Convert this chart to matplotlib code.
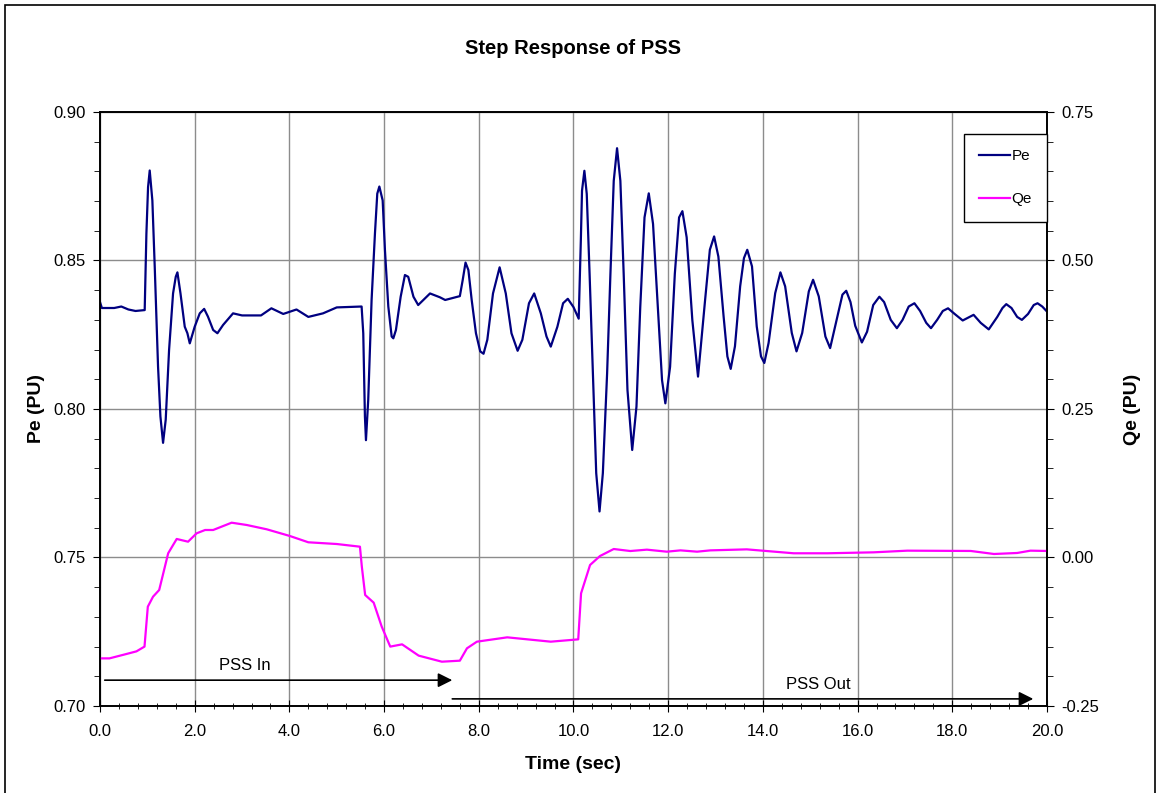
import numpy as np
import matplotlib as mpl
mpl.use('Agg')
import matplotlib.pyplot as plt
from matplotlib.patches import Rectangle
from matplotlib.ticker import MultipleLocator, FormatStrFormatter

plt.rcParams['font.family'] = ['Liberation Sans', 'DejaVu Sans']

# Pe (left axis)
pe_t = [0.00, 0.04, 0.30, 0.45, 0.60, 0.75, 0.944, 0.98, 1.015, 1.05, 1.106, 1.156, 1.226,
        1.276, 1.332, 1.388, 1.459, 1.543, 1.60, 1.635, 1.70, 1.79, 1.846, 1.896, 2.00,
        2.107, 2.20, 2.28, 2.39, 2.48, 2.60, 2.81, 3.00, 3.40, 3.62, 3.87, 4.15, 4.40,
        4.71, 5.00, 5.525, 5.56, 5.595, 5.617, 5.665, 5.736, 5.807, 5.856, 5.90, 5.97,
        6.018, 6.089, 6.16, 6.195, 6.25, 6.35, 6.44, 6.51, 6.62, 6.72, 6.83, 6.97, 7.18,
        7.29, 7.60, 7.66, 7.72, 7.78, 7.85, 7.94, 8.03, 8.10, 8.18, 8.30, 8.44, 8.57, 8.69,
        8.82, 8.92, 9.06, 9.17, 9.31, 9.43, 9.52, 9.66, 9.78, 9.88, 10.00, 10.11, 10.155,
        10.18, 10.23, 10.28, 10.34, 10.41, 10.48, 10.55, 10.62, 10.71, 10.78, 10.85, 10.92,
        10.99, 11.06, 11.14, 11.24, 11.33, 11.41, 11.50, 11.59, 11.68, 11.78, 11.87, 11.94,
        12.04, 12.14, 12.23, 12.30, 12.39, 12.51, 12.63, 12.78, 12.88, 12.97, 13.06, 13.17,
        13.25, 13.32, 13.41, 13.52, 13.60, 13.67, 13.77, 13.87, 13.96, 14.03, 14.12, 14.26,
        14.37, 14.47, 14.61, 14.71, 14.83, 14.97, 15.06, 15.18, 15.32, 15.42, 15.60, 15.68,
        15.76, 15.85, 15.95, 16.09, 16.20, 16.33, 16.46, 16.56, 16.70, 16.83, 16.95, 17.08,
        17.20, 17.32, 17.45, 17.55, 17.68, 17.80, 17.91, 18.05, 18.22, 18.45, 18.60, 18.77,
        18.95, 19.06, 19.14, 19.25, 19.37, 19.47, 19.60, 19.72, 19.80, 19.90, 20.00]
pe_v = [0.836, 0.834, 0.834, 0.8345, 0.8335, 0.833, 0.8333, 0.859, 0.8747, 0.8803, 0.8702,
        0.8479, 0.8143, 0.7975, 0.7886, 0.7964, 0.8199, 0.8389, 0.8445, 0.846, 0.8389,
        0.8277, 0.8255, 0.8221, 0.8277, 0.8322, 0.8337, 0.8311, 0.8266, 0.8255, 0.8283,
        0.8322, 0.8315, 0.8315, 0.8339, 0.832, 0.8335, 0.831, 0.8322, 0.8342, 0.8345,
        0.8255, 0.7975, 0.7895, 0.8031, 0.8367, 0.8591, 0.8725, 0.8749, 0.8702, 0.8535,
        0.8345, 0.8244, 0.8238, 0.8266, 0.8378, 0.8451, 0.8445, 0.8378, 0.835, 0.8367,
        0.8389, 0.8376, 0.8367, 0.838, 0.8434, 0.8493, 0.8468, 0.8367, 0.8255, 0.8194,
        0.8186, 0.8233, 0.8389, 0.8477, 0.8389, 0.8255, 0.8196, 0.8233, 0.8356, 0.8389,
        0.8322, 0.8244, 0.821, 0.8277, 0.8356, 0.8371, 0.8343, 0.8304, 0.8567, 0.8735,
        0.8802, 0.8724, 0.8455, 0.812, 0.7784, 0.7655, 0.7784, 0.812, 0.8455, 0.8768,
        0.8878, 0.8768, 0.8455, 0.8064, 0.7862, 0.8008, 0.8343, 0.8645, 0.8726, 0.8623,
        0.8343, 0.8097, 0.8019, 0.8142, 0.8455, 0.8645, 0.8666, 0.8578, 0.8299, 0.8109,
        0.8368, 0.8536, 0.8581, 0.8513, 0.8312, 0.8177, 0.8135, 0.8211, 0.8413, 0.8508,
        0.8536, 0.848, 0.8278, 0.8177, 0.8155, 0.8222, 0.839, 0.846, 0.8413, 0.8256,
        0.8194, 0.8256, 0.8396, 0.8435, 0.8379, 0.8244, 0.8205, 0.833, 0.8385, 0.8398,
        0.836, 0.828, 0.8224, 0.826, 0.835, 0.8378, 0.836, 0.830, 0.8272, 0.830, 0.8345,
        0.8356, 0.833, 0.829, 0.8272, 0.830, 0.833, 0.8339, 0.832, 0.8298, 0.8317, 0.829,
        0.8268, 0.831, 0.834, 0.8353, 0.834, 0.831, 0.830, 0.832, 0.835, 0.8356, 0.8345,
        0.8328]

# Qe (right axis)
qe_t = [0.00, 0.20, 0.56, 0.77, 0.94, 1.01, 1.12, 1.25, 1.44, 1.62, 1.86, 2.04, 2.22, 2.39,
        2.78, 3.10, 3.52, 4.01, 4.40, 5.00, 5.49, 5.53, 5.60, 5.78, 5.95, 6.13, 6.38, 6.73,
        7.22, 7.60, 7.75, 7.96, 8.60, 9.52, 10.10, 10.16, 10.35, 10.56, 10.85, 11.20, 11.55,
        11.97, 12.26, 12.61, 12.89, 13.66, 14.65, 15.36, 16.34, 17.05, 18.39, 18.88, 19.37,
        19.65, 20.00]
qe_v = [-0.1698, -0.1698, -0.1624, -0.158, -0.150, -0.0828, -0.066, -0.0547, 0.0071, 0.0312,
        0.0266, 0.0407, 0.0463, 0.0463, 0.0586, 0.0547, 0.0475, 0.0362, 0.0256, 0.0227,
        0.0182, -0.0155, -0.0631, -0.076, -0.1164, -0.150, -0.1462, -0.1652, -0.1754,
        -0.1737, -0.1529, -0.1417, -0.1344, -0.1417, -0.1378, -0.0603, -0.0126, 0.0025,
        0.0143, 0.0109, 0.0132, 0.0098, 0.0120, 0.0098, 0.0120, 0.0137, 0.0071, 0.0071,
        0.0087, 0.0115, 0.0110, 0.0059, 0.0076, 0.0115, 0.0110]

fig = plt.figure(figsize=(11.56, 7.93), dpi=100)
ax = fig.add_axes([0.0865, 0.1097, 0.8192, 0.7491])
ax2 = ax.twinx()

l1, = ax.plot(pe_t, pe_v, color='#000080', lw=1.6, label='Pe')
l2, = ax2.plot(qe_t, qe_v, color='#FF00FF', lw=1.6, label='Qe')

ax.set_xlim(0, 20)
ax.set_ylim(0.70, 0.90)
ax2.set_ylim(-0.25, 0.75)
ax.xaxis.set_major_locator(MultipleLocator(2))
ax.xaxis.set_minor_locator(MultipleLocator(0.4))
ax.yaxis.set_major_locator(MultipleLocator(0.05))
ax.yaxis.set_minor_locator(MultipleLocator(0.01))
ax2.yaxis.set_major_locator(MultipleLocator(0.25))
ax2.yaxis.set_minor_locator(MultipleLocator(0.05))
ax.xaxis.set_major_formatter(FormatStrFormatter('%.1f'))
ax.yaxis.set_major_formatter(FormatStrFormatter('%.2f'))
ax2.yaxis.set_major_formatter(FormatStrFormatter('%.2f'))

ax.grid(True, which='major', color='#8c8c8c', lw=1)
ax.set_axisbelow(True)
ax.tick_params(axis='x', which='major', direction='inout', length=8, labelsize=12, pad=9)
ax.tick_params(axis='x', which='minor', direction='inout', length=5)
ax.tick_params(axis='y', which='major', direction='out', length=5, labelsize=12, pad=5)
ax.tick_params(axis='y', which='minor', direction='out', length=4)
ax2.tick_params(axis='y', which='major', direction='out', length=5, labelsize=12, pad=5)
ax2.tick_params(axis='y', which='minor', direction='out', length=4)
for a in (ax, ax2):
    for s in a.spines.values():
        s.set_linewidth(1.2)

ax.set_title('Step Response of PSS', fontsize=14.5, fontweight='bold', pad=42)
ax.set_xlabel('Time (sec)', fontsize=14, fontweight='bold', labelpad=12)
ax.set_ylabel('Pe (PU)', fontsize=14, fontweight='bold', labelpad=6)
ax2.set_ylabel('Qe (PU)', fontsize=14, fontweight='bold', labelpad=18)

# PSS In / PSS Out arrows
arrow = dict(arrowstyle='-|>,head_length=0.86,head_width=0.43', color='black',
             lw=1.2, shrinkA=0, shrinkB=0, mutation_scale=10)
ax.annotate('', xy=(7.44, 0.7087), xytext=(0.10, 0.7087), arrowprops=arrow)
ax.text(3.06, 0.7138, 'PSS In', ha='center', va='center', fontsize=12)
ax.annotate('', xy=(19.71, 0.7024), xytext=(7.44, 0.7024), arrowprops=arrow)
ax.text(15.17, 0.7074, 'PSS Out', ha='center', va='center', fontsize=12)

leg = ax2.legend([l1, l2], ['Pe', 'Qe'], loc='upper left', bbox_to_anchor=(0.9123, 0.963),
                 borderaxespad=0, fancybox=False, framealpha=1, edgecolor='black',
                 fontsize=11, handlelength=2.0, handletextpad=0.12, labelspacing=1.9,
                 borderpad=1.0)
leg.get_frame().set_linewidth(1.0)

fig.patches.append(Rectangle((0.004, -0.01), 0.9955, 1.0037, transform=fig.transFigure,
                             fill=False, edgecolor='black', lw=1.2))

fig.savefig('out.png', dpi=100)
